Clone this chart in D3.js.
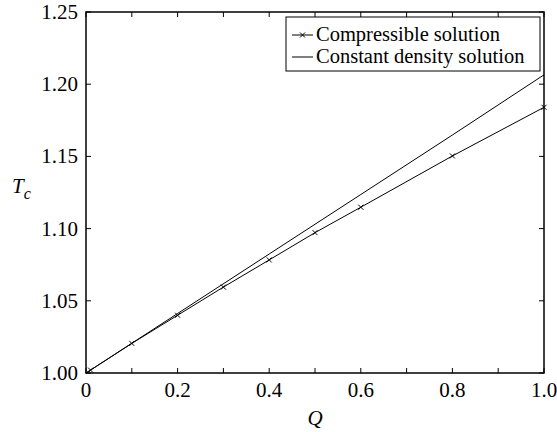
<!DOCTYPE html>
<html>
<head>
<meta charset="utf-8">
<script src="https://cdn.jsdelivr.net/npm/d3@7"></script>
<style>
  body { margin: 0; background: #fff; }
  svg text { font-family: "Liberation Serif", "DejaVu Serif", serif; fill: #000; }
</style>
</head>
<body>
<svg id="chart" width="557" height="432"></svg>
<script>
// compressible solution (with x markers)
var compQ = [0.01, 0.1, 0.2, 0.3, 0.4, 0.5, 0.6, 0.8, 1.0];
var compT = [1.002, 1.0205, 1.040, 1.0595, 1.0783, 1.0972, 1.1148, 1.1503, 1.184];
// constant density solution
var constQ = [0, 0.2, 0.4, 0.6, 0.8, 1.0];
var constT = [1.0, 1.0412, 1.0824, 1.1236, 1.1648, 1.2065];

var xTicks = [0, 0.2, 0.4, 0.6, 0.8, 1.0];
var xTickLabels = ["0", "0.2", "0.4", "0.6", "0.8", "1.0"];
var xMinor = [0.1, 0.3, 0.5, 0.7, 0.9];
var yTicks = [1.00, 1.05, 1.10, 1.15, 1.20, 1.25];
var yTickLabels = ["1.00", "1.05", "1.10", "1.15", "1.20", "1.25"];
var legendNames = ["Compressible solution", "Constant density solution"];

function draw() {
  var svg = d3.select("#chart");
  var left = 86, right = 544, top = 12, bottom = 373;
  var fs = 21;

  var x = d3.scaleLinear().domain([0, 1]).range([left, right]);
  var y = d3.scaleLinear().domain([1, 1.25]).range([bottom, top]);

  var tickLen = 5;
  var g = svg.append("g");

  // ticks (inward) on all four sides
  xTicks.concat(xMinor).forEach(function(v) {
    g.append("line").attr("x1", x(v)).attr("x2", x(v)).attr("y1", bottom).attr("y2", bottom - tickLen)
      .attr("stroke", "#000").attr("stroke-width", 1);
    g.append("line").attr("x1", x(v)).attr("x2", x(v)).attr("y1", top).attr("y2", top + tickLen)
      .attr("stroke", "#000").attr("stroke-width", 1);
  });
  yTicks.forEach(function(v) {
    g.append("line").attr("x1", left).attr("x2", left + tickLen).attr("y1", y(v)).attr("y2", y(v))
      .attr("stroke", "#000").attr("stroke-width", 1);
    g.append("line").attr("x1", right).attr("x2", right - tickLen).attr("y1", y(v)).attr("y2", y(v))
      .attr("stroke", "#000").attr("stroke-width", 1);
  });

  // tick labels
  xTicks.forEach(function(v, i) {
    g.append("text").attr("x", x(v)).attr("y", bottom + 24)
      .attr("text-anchor", "middle").attr("font-size", fs).text(xTickLabels[i]);
  });
  yTicks.forEach(function(v, i) {
    g.append("text").attr("x", left - 8).attr("y", y(v) + 7)
      .attr("text-anchor", "end").attr("font-size", fs).text(yTickLabels[i]);
  });

  // axis labels
  g.append("text").attr("x", x(0.5)).attr("y", 425).attr("text-anchor", "middle")
    .attr("font-size", fs).attr("font-style", "italic").text("Q");
  var tl = g.append("text").attr("x", 12).attr("y", 193).attr("font-size", fs).attr("font-style", "italic");
  tl.append("tspan").text("T");
  tl.append("tspan").attr("font-size", 16).attr("dy", 6).text("c");

  // lines
  var line = d3.line().x(function(d) { return x(d[0]); }).y(function(d) { return y(d[1]); });
  var constData = d3.zip(constQ, constT);
  var compData = d3.zip(compQ, compT);
  compData.unshift([0, 1.0]);

  g.append("path").datum(constData).attr("d", line)
    .attr("fill", "none").attr("stroke", "#000").attr("stroke-width", 1);
  g.append("path").datum(compData).attr("d", line)
    .attr("fill", "none").attr("stroke", "#000").attr("stroke-width", 1);

  var m = 2.5;
  function cross(cx, cy) {
    g.append("path")
      .attr("d", "M" + (cx - m) + "," + (cy - m) + "L" + (cx + m) + "," + (cy + m) +
                 "M" + (cx - m) + "," + (cy + m) + "L" + (cx + m) + "," + (cy - m))
      .attr("stroke", "#000").attr("stroke-width", 1);
  }
  compQ.forEach(function(q, i) { cross(x(q), y(compT[i])); });

  // frame
  g.append("rect").attr("x", left).attr("y", top).attr("width", right - left).attr("height", bottom - top)
    .attr("fill", "none").attr("stroke", "#000").attr("stroke-width", 1.5);

  // legend
  var lg = g.append("g");
  lg.append("rect").attr("x", 286).attr("y", 17).attr("width", 254).attr("height", 54)
    .attr("fill", "#fff").attr("stroke", "#000").attr("stroke-width", 1);
  legendNames.forEach(function(name, i) {
    var ly = 35 + i * 22;
    lg.append("line").attr("x1", 292).attr("x2", 313).attr("y1", ly).attr("y2", ly)
      .attr("stroke", "#000").attr("stroke-width", 1);
    if (i === 0) cross(302.5, ly);
    lg.append("text").attr("x", 316).attr("y", ly + 6).attr("font-size", 20.5).text(name);
  });
}

draw();
</script>
</body>
</html>
